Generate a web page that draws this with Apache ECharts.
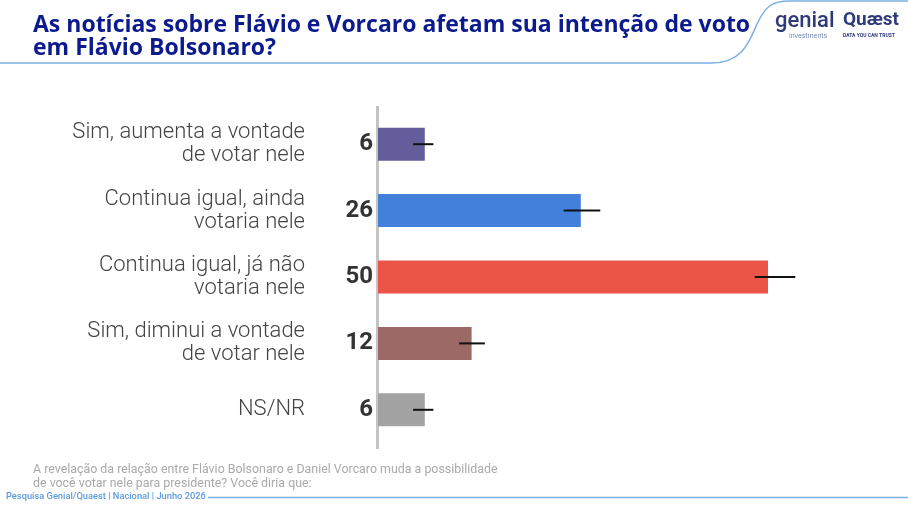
<!DOCTYPE html>
<html>
<head>
<meta charset="utf-8">
<script src="https://cdn.jsdelivr.net/npm/echarts@6/dist/echarts.min.js"></script>
<style>
  html, body { margin: 0; padding: 0; background: #fff; }
  #chart { width: 908px; height: 511px; }
</style>
</head>
<body>
<div id="chart"></div>
<script>
var categories = [
  'Sim, aumenta a vontade\nde votar nele',
  'Continua igual, ainda\nvotaria nele',
  'Continua igual, já não\nvotaria nele',
  'Sim, diminui a vontade\nde votar nele',
  'NS/NR'
];
var values = [6, 26, 50, 12, 6];
var errLow = [4.5, 23.8, 48.3, 10.4, 4.5];
var errHigh = [7.1, 28.5, 53.5, 13.7, 7.1];
var colors = ['#635e9b', '#4380dc', '#ea5548', '#9c6967', '#a3a3a3'];

var myChart = echarts.init(document.getElementById('chart'));

var curveStyle = { fill: null, stroke: '#7aaee0', lineWidth: 1.5 };

var option = {
  animation: false,
  grid: { left: 378, top: 111, width: 468, height: 332 },
  xAxis: {
    type: 'value', min: 0, max: 60,
    show: false
  },
  yAxis: {
    type: 'category',
    inverse: true,
    data: categories,
    axisTick: { show: false },
    axisLine: { show: false },
    axisLabel: {
      margin: 73,
      fontFamily: 'Roboto',
      fontWeight: 300,
      fontSize: 22,
      lineHeight: 23,
      color: '#444',
      align: 'right'
    }
  },
  series: [
    {
      type: 'bar',
      data: values.map(function (v, i) {
        return { value: v, itemStyle: { color: colors[i] } };
      }),
      barWidth: 33,
      label: {
        show: true,
        position: 'left',
        distance: 5,
        fontFamily: 'Roboto',
        fontWeight: 'bold',
        fontSize: 24,
        color: '#333'
      }
    },
    {
      type: 'custom',
      data: errLow.map(function (l, i) { return [i, l, errHigh[i]]; }),
      renderItem: function (params, api) {
        var a = api.coord([api.value(1), api.value(0)]);
        var b = api.coord([api.value(2), api.value(0)]);
        return {
          type: 'line',
          shape: { x1: a[0], y1: a[1], x2: b[0], y2: b[1] },
          style: { stroke: '#111', lineWidth: 2 }
        };
      },
      z: 5
    }
  ],
  graphic: [
    {
      // value axis line, a bit longer than the category band
      type: 'line',
      shape: { x1: 377.5, y1: 106, x2: 377.5, y2: 449 },
      style: { stroke: '#c4c4c4', lineWidth: 3 }
    },
    {
      type: 'text', x: 33, y: 14,
      style: {
        text: 'As notícias sobre Flávio e Vorcaro afetam sua intenção de voto\nem Flávio Bolsonaro?',
        font: 'bold 23px "Open Sans"', fill: '#0b1a8c', lineHeight: 23
      }
    },
    {
      type: 'line',
      shape: { x1: 0, y1: 63, x2: 712, y2: 63 },
      style: curveStyle
    },
    {
      type: 'bezierCurve',
      shape: { x1: 712, y1: 63, cpx1: 745, cpy1: 63, cpx2: 750, cpy2: 38, x2: 758, y2: 22 },
      style: curveStyle
    },
    {
      type: 'bezierCurve',
      shape: { x1: 758, y1: 22, cpx1: 766, cpy1: 6, cpx2: 772, cpy2: 1, x2: 790, y2: 1 },
      style: curveStyle
    },
    {
      type: 'line',
      shape: { x1: 790, y1: 1, x2: 908, y2: 1 },
      style: curveStyle
    },
    {
      type: 'text', x: 775, y: 10,
      style: { text: 'genial', font: '500 22px Roboto', fill: '#2f3a7a' }
    },
    {
      type: 'text', x: 789, y: 33,
      style: { text: 'investments', font: '7px Roboto', fill: '#7a8bb5' }
    },
    {
      type: 'text', x: 843, y: 11,
      style: { text: 'Quæst', font: 'bold 19px Roboto', fill: '#2f3a7a' }
    },
    {
      type: 'text', x: 843, y: 33,
      style: { text: 'DATA YOU CAN TRUST', font: 'bold 5px Roboto', fill: '#2f3a7a' }
    },
    {
      type: 'text', x: 33, y: 463,
      style: {
        text: 'A revelação da relação entre Flávio Bolsonaro e Daniel Vorcaro muda a possibilidade\nde você votar nele para presidente? Você diria que:',
        font: '12.4px Roboto', fill: '#aaa', lineHeight: 14
      }
    },
    {
      type: 'text', x: 6, y: 492,
      style: { text: 'Pesquisa Genial/Quaest | Nacional | Junho 2026', font: '500 9.3px Roboto', fill: '#5b9be0' }
    },
    {
      type: 'line',
      shape: { x1: 208, y1: 497.5, x2: 908, y2: 497.5 },
      style: curveStyle
    }
  ]
};

myChart.setOption(option);
</script>
</body>
</html>
